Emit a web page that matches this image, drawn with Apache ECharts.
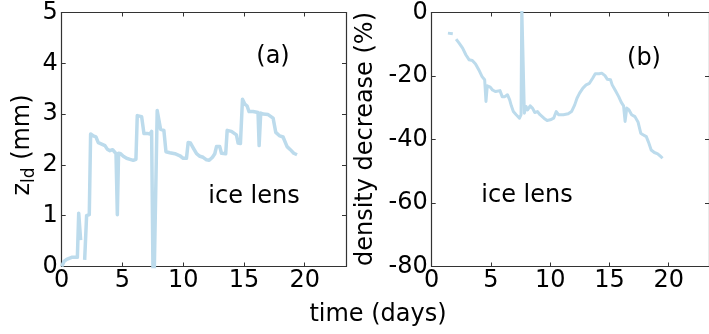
<!DOCTYPE html>
<html>
<head>
<meta charset="utf-8">
<script src="https://cdn.jsdelivr.net/npm/echarts@6/dist/echarts.min.js"></script>
<style>
  html, body { margin: 0; padding: 0; background: #fff; }
  #chart { width: 709px; height: 334px; }
</style>
</head>
<body>
<div id="chart"></div>
<script>
// (a) ice-lens thickness z_ld in mm over time (days); null marks a gap
const timeA = [0, 0.19, 0.41, 0.82, 1.29, 1.4, 1.56, 1.7, 1.89, 2.05, 2.27, 2.38, 2.6, 2.82, 3.01, 3.29, 3.56, 3.75, 3.97, 4.19, 4.33, 4.47, 4.58, 4.68, 4.85, 5.07, 5.34, 5.62, 5.89, 6.11, 6.22, 6.58, 6.77, 7.04, 7.26, 7.4, 7.55, 7.86, 8.14, 8.41, 8.58, 8.9, 9.32, 9.73, 10.0, 10.27, 10.41, 10.6, 10.88, 11.1, 11.37, 11.64, 11.92, 12.14, 12.41, 12.6, 12.74, 13.01, 13.15, 13.5, 13.62, 13.97, 14.38, 14.52, 14.71, 14.88, 15.07, 15.26, 15.42, 15.75, 16.16, 16.25, 16.38, 16.58, 16.99, 17.4, 17.62, 17.95, 18.22, 18.55, 18.82, 19.1, 19.37];
const zld = [0, 0.1, 0.14, 0.18, 0.18, 1.05, 0.52, null, 0.13, 1.0, 1.02, 2.61, 2.57, 2.55, 2.44, 2.41, 2.38, 2.31, 2.28, 2.3, 2.26, 2.22, 1.02, 2.23, 2.22, 2.17, 2.13, 2.11, 2.09, 2.11, 2.97, 2.95, 2.62, 2.62, 2.61, 2.66, -1.0, 3.07, 2.7, 2.68, 2.26, 2.24, 2.22, 2.18, 2.13, 2.13, 2.44, 2.43, 2.31, 2.22, 2.17, 2.15, 2.1, 2.09, 2.15, 2.22, 2.36, 2.36, 2.23, 2.22, 2.68, 2.66, 2.59, 2.43, 2.42, 3.29, 3.2, 3.16, 3.05, 3.05, 3.03, 2.38, 3.02, 3.0, 2.99, 2.92, 2.64, 2.57, 2.55, 2.36, 2.3, 2.23, 2.2];

// (b) density decrease in % over time (days); null marks a gap
const timeB = [1.37, 1.78, 1.9, 2.06, 2.33, 2.61, 2.88, 3.16, 3.43, 3.7, 3.98, 4.25, 4.47, 4.58, 4.69, 4.94, 5.13, 5.4, 5.76, 5.95, 6.17, 6.39, 6.58, 6.72, 6.89, 7.13, 7.41, 7.54, 7.6, 7.72, 7.82, 7.96, 8.09, 8.31, 8.5, 8.7, 8.92, 9.14, 9.47, 9.74, 10.01, 10.29, 10.51, 10.7, 11.11, 11.52, 11.8, 12.07, 12.26, 12.48, 12.76, 13.03, 13.31, 13.58, 13.8, 14.13, 14.35, 14.62, 14.81, 15.09, 15.23, 15.5, 15.78, 16.0, 16.19, 16.32, 16.46, 16.65, 16.87, 17.15, 17.42, 17.64, 17.83, 18.11, 18.3, 18.52, 18.79, 19.07, 19.34, 19.48];
const density = [-6.5, -6.7, null, -8.4, -9.7, -11.2, -13.3, -14.9, -15.1, -16.2, -18.1, -20.2, -21.2, -28.0, -23.1, -23.5, -24.4, -24.9, -24.6, -26.5, -26.5, -25.9, -27.5, -29.4, -31.2, -32.2, -33.3, -32.2, 3, 3, -31.7, -29.6, -30.7, -29.4, -30.1, -31.5, -31.2, -32.2, -33.3, -34.0, -33.8, -33.3, -31.2, -32.2, -32.2, -31.9, -31.2, -29.1, -27.0, -25.4, -23.8, -22.8, -22.3, -20.7, -19.3, -19.3, -19.1, -19.9, -21.0, -21.2, -22.8, -24.6, -26.5, -28.3, -29.4, -34.3, -30.1, -30.7, -32.2, -32.8, -34.6, -38.0, -38.5, -39.1, -40.9, -43.3, -44.1, -44.5, -45.4, -45.9];

const xTicks = [0, 5, 10, 15, 20];
const yTicksA = [0, 1, 2, 3, 4, 5];
const yTicksB = [-80, -60, -40, -20, 0];

const FONT = 'DejaVu Sans';
const FS = 24;
const INK = '#000';
const FRAME = '#333';
const LINE = '#bcdbec';
const X_MAX = 23.4;

const pairs = (xs, ys) => xs.map((x, i) => [x, ys[i]]);

function xAxes(gridIndex) {
  const base = {
    type: 'value', gridIndex, min: 0, max: X_MAX, interval: 5,
    splitLine: { show: false },
    axisLine: { show: true, onZero: false, lineStyle: { color: FRAME, width: 1.2 } },
    axisTick: { show: true, inside: true, length: 4, lineStyle: { color: FRAME } }
  };
  return [
    Object.assign({}, base, {
      position: 'bottom',
      axisLabel: {
        show: true, margin: 2, fontFamily: FONT, fontSize: FS, color: INK,
        showMaxLabel: false,
        formatter: v => (xTicks.includes(v) ? String(v) : '')
      }
    }),
    Object.assign({}, base, { position: 'top', axisLabel: { show: false } })
  ];
}

function yAxes(gridIndex, min, max, interval, ticks) {
  const base = {
    type: 'value', gridIndex, min, max, interval,
    splitLine: { show: false },
    axisLine: { show: true, onZero: false, lineStyle: { color: FRAME, width: 1.2 } },
    axisTick: { show: true, inside: true, length: 4, lineStyle: { color: FRAME } }
  };
  return [
    Object.assign({}, base, {
      position: 'left',
      axisLabel: {
        show: true, margin: 4, fontFamily: FONT, fontSize: FS, color: INK,
        formatter: v => (ticks.includes(v) ? String(v) : '')
      }
    }),
    Object.assign({}, base, { position: 'right', axisLabel: { show: false } })
  ];
}

const chart = echarts.init(document.getElementById('chart'), null, { renderer: 'canvas' });

chart.setOption({
  animation: false,
  backgroundColor: '#fff',
  grid: [
    { left: 61.7, top: 12.5, width: 284.3, height: 254 },
    { left: 431.7, top: 12.5, width: 284.3, height: 254 }
  ],
  xAxis: [...xAxes(0), ...xAxes(1)],
  yAxis: [...yAxes(0, 0, 5, 1, yTicksA), ...yAxes(1, -80, 0, 20, yTicksB)],
  series: [
    {
      type: 'line', xAxisIndex: 0, yAxisIndex: 0,
      data: pairs(timeA, zld),
      showSymbol: false, clip: true, connectNulls: false,
      lineStyle: { color: LINE, width: 3.5, join: 'round', cap: 'butt' }
    },
    {
      type: 'line', xAxisIndex: 2, yAxisIndex: 2,
      data: pairs(timeB, density),
      showSymbol: false, clip: true, connectNulls: false,
      lineStyle: { color: LINE, width: 3, join: 'round', cap: 'butt' }
    }
  ],
  graphic: [
    {
      type: 'text', x: 23, y: 145, rotation: Math.PI / 2,
      style: {
        text: '{n|z}{s|ld}{n| (mm)}',
        align: 'center', verticalAlign: 'middle',
        fontFamily: FONT, fill: INK,
        rich: {
          n: { fontFamily: FONT, fontSize: FS, lineHeight: 30, verticalAlign: 'middle', fill: INK },
          s: { fontFamily: FONT, fontSize: 17, lineHeight: 30, verticalAlign: 'bottom', fill: INK }
        }
      }
    },
    {
      type: 'text', x: 366, y: 139, rotation: Math.PI / 2,
      style: {
        text: 'density decrease (%)', align: 'center', verticalAlign: 'middle',
        fontFamily: FONT, fontSize: FS, fill: INK
      }
    },
    {
      type: 'text', x: 378, y: 315,
      style: {
        text: 'time (days)', align: 'center', verticalAlign: 'middle',
        fontFamily: FONT, fontSize: FS, fill: INK
      }
    },
    {
      type: 'text', x: 273, y: 57,
      style: { text: '(a)', align: 'center', verticalAlign: 'middle', fontFamily: FONT, fontSize: FS, fill: INK }
    },
    {
      type: 'text', x: 254, y: 197,
      style: { text: 'ice lens', align: 'center', verticalAlign: 'middle', fontFamily: FONT, fontSize: FS, fill: INK }
    },
    {
      type: 'text', x: 644, y: 59,
      style: { text: '(b)', align: 'center', verticalAlign: 'middle', fontFamily: FONT, fontSize: FS, fill: INK }
    },
    {
      type: 'text', x: 527, y: 196,
      style: { text: 'ice lens', align: 'center', verticalAlign: 'middle', fontFamily: FONT, fontSize: FS, fill: INK }
    }
  ]
});
</script>
</body>
</html>
